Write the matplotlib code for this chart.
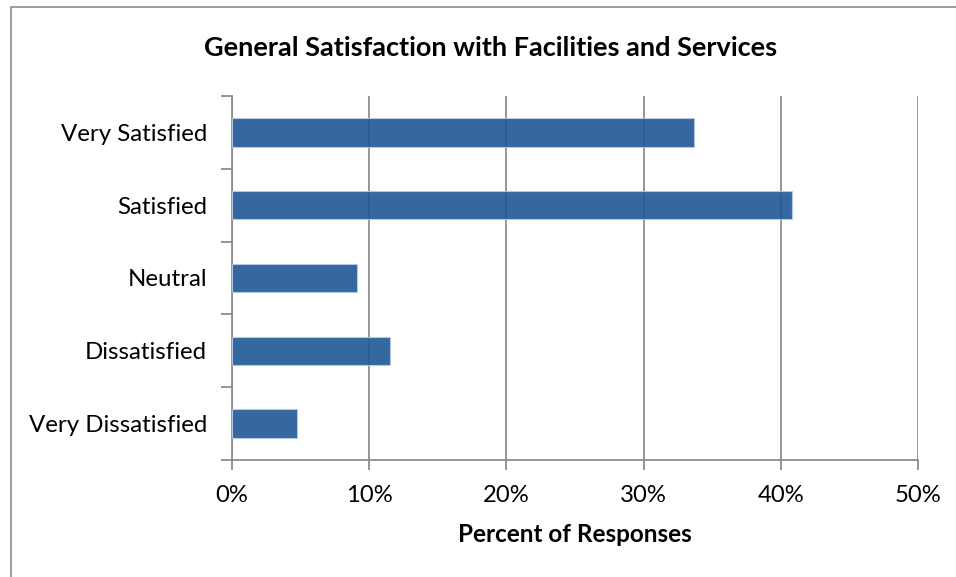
import numpy as np
import matplotlib.pyplot as plt
from matplotlib.patches import Rectangle
from matplotlib.ticker import PercentFormatter, FixedLocator

categories = ['Very Satisfied', 'Satisfied', 'Neutral', 'Dissatisfied', 'Very Dissatisfied']
percents = [33.7, 40.8, 9.1, 11.5, 4.75]
x_ticks = [0, 10, 20, 30, 40, 50]

plt.rcParams['font.family'] = ['Lato', 'DejaVu Sans']

fig = plt.figure(figsize=(9.56, 5.77), dpi=100)
ax = fig.add_axes([0.2427, 0.2028, 0.7176, 0.6308])

# rahmen um die ganze grafik
fig.patches.append(Rectangle((11 / 956, -0.1), 1.2, 1 - 7 / 577 + 0.1, transform=fig.transFigure,
                             fill=False, edgecolor='#8c8c8c', linewidth=1.2))

y = np.arange(len(categories))
ax.barh(y, percents, height=0.39, color='#1f5896', alpha=0.9, edgecolor='#b8cce4',
        linewidth=0.8, zorder=3)

ax.set_xlim(0, 50)
ax.set_ylim(len(categories) - 0.5, -0.5)
ax.set_xticks(x_ticks)
ax.xaxis.set_major_formatter(PercentFormatter(decimals=0))
ax.set_yticks(y)
ax.set_yticklabels(categories)
ax.yaxis.set_minor_locator(FixedLocator(np.arange(-0.5, len(categories), 1)))
ax.tick_params(axis='y', which='major', length=0, labelsize=17.3, pad=18)
ax.tick_params(axis='y', which='minor', length=8, color='#8c8c8c', width=1.3)
ax.tick_params(axis='x', length=7, color='#8c8c8c', width=1.3, labelsize=17.2, pad=11)

ax.grid(axis='x', color='#8c8c8c', linewidth=1.3, zorder=1)
for s in ['top', 'right']:
    ax.spines[s].set_visible(False)
for s in ['left', 'bottom']:
    ax.spines[s].set_color('#8c8c8c')
    ax.spines[s].set_linewidth(1.3)

ax.set_xlabel('Percent of Responses', fontsize=17.5, fontweight='bold', labelpad=12)
fig.text(0.513, 0.917, 'General Satisfaction with Facilities and Services', ha='center',
         va='center', fontsize=19.5, fontweight='bold')

fig.savefig('out.png', dpi=100)
